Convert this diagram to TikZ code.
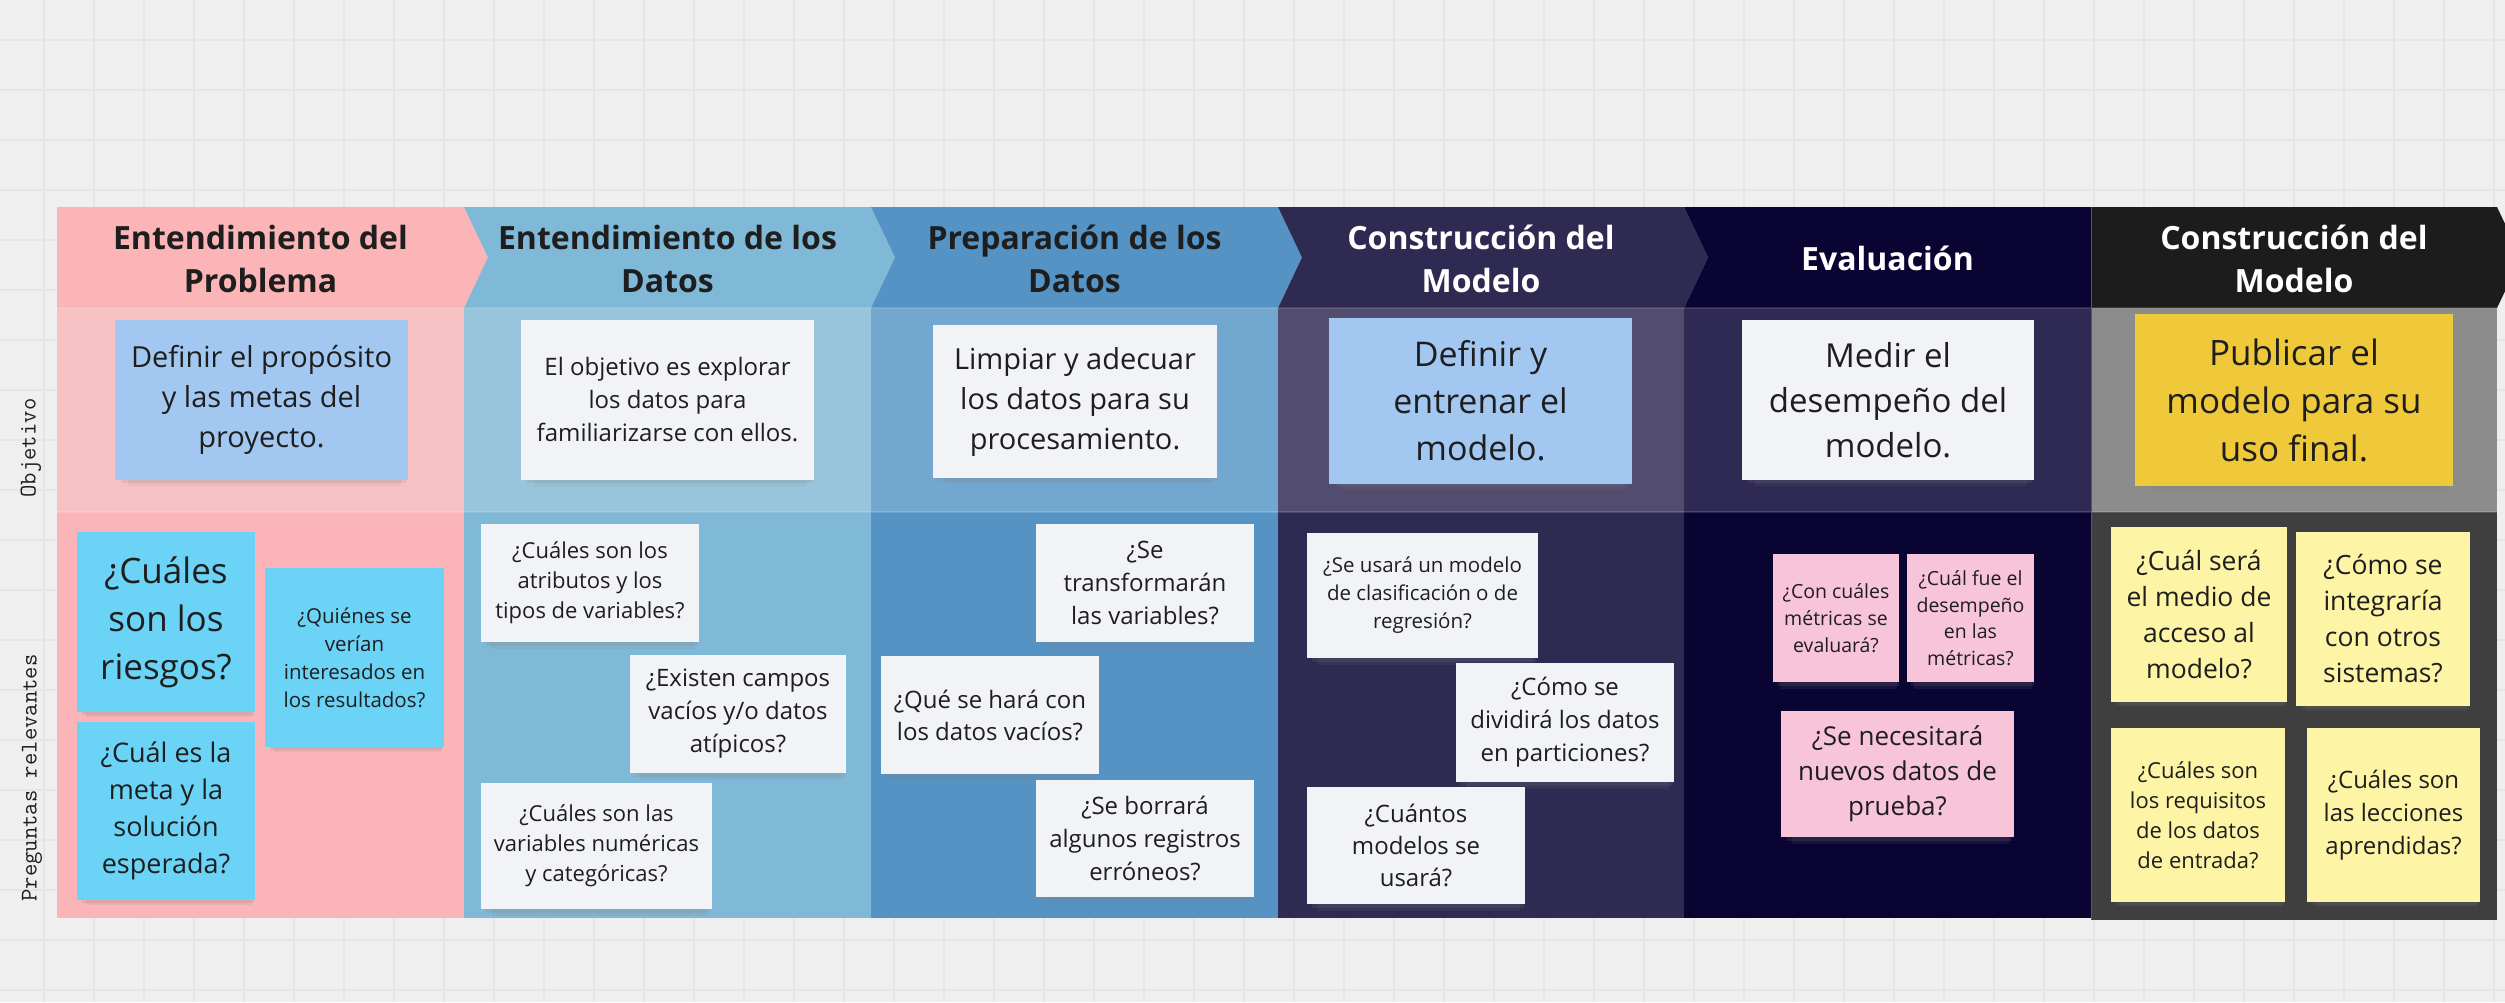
\documentclass[tikz,border=0pt]{standalone}
\usepackage{fontspec}
\setmainfont{Open Sans}
\usetikzlibrary{shadows}

\definecolor{fondo}{HTML}{EFEFEF}
\definecolor{rejilla}{HTML}{E5E5E5}
\definecolor{texto}{HTML}{1E1E1E}
% columnas: cabecera, objetivo, preguntas
\definecolor{cabA}{HTML}{FBB5B7}\definecolor{objA}{HTML}{F8C2C4}\definecolor{preA}{HTML}{FBB4B7}
\definecolor{cabB}{HTML}{80B8D7}\definecolor{objB}{HTML}{98C5DC}\definecolor{preB}{HTML}{80B8D7}
\definecolor{cabC}{HTML}{5593C5}\definecolor{objC}{HTML}{72A8CF}\definecolor{preC}{HTML}{5593C4}
\definecolor{cabD}{HTML}{2E2A52}\definecolor{objD}{HTML}{524C6F}\definecolor{preD}{HTML}{2E2A52}
\definecolor{cabE}{HTML}{0A0433}\definecolor{objE}{HTML}{2F2A54}\definecolor{preE}{HTML}{0A0433}
\definecolor{cabF}{HTML}{1C1C1C}\definecolor{objF}{HTML}{8C8C8C}\definecolor{preF}{HTML}{3F3F3F}
% notas
\definecolor{notaAzul}{HTML}{A2C8F2}
\definecolor{notaBlanca}{HTML}{F1F3F6}
\definecolor{notaCian}{HTML}{6AD3F6}
\definecolor{notaOro}{HTML}{F0C93B}
\definecolor{notaRosa}{HTML}{F8C4D9}
\definecolor{notaCrema}{HTML}{FDF4A6}

\begin{document}
\begin{tikzpicture}[x=1pt,y=-1pt]
\tikzset{base/.style={align=center, text=texto, inner sep=0pt}, }
\tikzset{dim/.style 2 args={font=\fontsize{#1}{#2}\selectfont}, }
\tikzset{nota/.style={base, drop shadow={shadow xshift=3pt, shadow yshift=-12pt, shadow scale=.93, opacity=.12},
  drop shadow={shadow xshift=2pt, shadow yshift=-6pt, shadow scale=.97, opacity=.16}}, }
\tikzset{azul node/.style={nota, fill=notaAzul}, }
\tikzset{blanca node/.style={nota, fill=notaBlanca}, }
\tikzset{cian node/.style={nota, fill=notaCian}, }
\tikzset{oro node/.style={nota, fill=notaOro}, }
\tikzset{rosa node/.style={nota, fill=notaRosa}, }
\tikzset{crema node/.style={nota, fill=notaCrema}, }
\tikzset{titulo/.style={base, font=\bfseries\fontsize{32}{43}\selectfont}, }
\tikzset{etiqueta/.style={text=texto, inner sep=0pt, rotate=90, font=\ttfamily\fontsize{24}{28}\selectfont}, }
\tikzset{linea rejilla/.style={rejilla, line width=1.2pt}, }
\tikzset{separador/.style={white, opacity=.14, line width=1.5pt}, }

\useasboundingbox (0,0) rectangle (2505,1002);
\fill[fondo] (0,0) rectangle (2505,1002);
\foreach \gx in {44,94,...,2494} \draw[linea rejilla] (\gx,0) -- (\gx,1002);
\foreach \gy in {40,90,...,990} \draw[linea rejilla] (0,\gy) -- (2505,\gy);

% filas
\fill[objA] (57,308) rectangle (464,512);   \fill[preA] (57,512) rectangle (464,918);
\fill[objB] (464,308) rectangle (871,512);  \fill[preB] (464,512) rectangle (871,918);
\fill[objC] (871,308) rectangle (1278,512); \fill[preC] (871,512) rectangle (1278,918);
\fill[objD] (1278,308) rectangle (1684,512);\fill[preD] (1278,512) rectangle (1684,918);
\fill[objE] (1684,308) rectangle (2091,512);\fill[preE] (1684,512) rectangle (2091,918);
\fill[objF] (2091,308) rectangle (2497,512);\fill[preF] (2091,512) rectangle (2497,920);

% cabeceras
\fill[cabA] (57,207) -- (464,207) -- (488,257.5) -- (464,308) -- (57,308) -- cycle;
\fill[cabB] (464,207) -- (871,207) -- (895,257.5) -- (871,308) -- (464,308) -- (488,257.5) -- cycle;
\fill[cabC] (871,207) -- (1278,207) -- (1302,257.5) -- (1278,308) -- (871,308) -- (895,257.5) -- cycle;
\fill[cabD] (1278,207) -- (1684,207) -- (1708,257.5) -- (1684,308) -- (1278,308) -- (1302,257.5) -- cycle;
\fill[cabE] (1684,207) -- (2091,207) -- (2091,308) -- (1684,308) -- (1708,257.5) -- cycle;
\fill[cabF] (2091,207) -- (2497,207) -- (2521,257.5) -- (2497,308) -- (2091,308) -- cycle;
\draw[separador] (57,308) -- (2497,308);
\draw[separador] (57,512) -- (2497,512);
\draw[gray!70!black, line width=1pt] (2091,207) -- (2091,920);

\node[titulo] (h1) at (260.5,258.5) {Entendimiento del\\Problema};
\node[titulo] (h2) at (667.5,258.5) {Entendimiento de los\\Datos};
\node[titulo] (h3) at (1074.5,258.5) {Preparación de los\\Datos};
\node[titulo, text=white] (h4) at (1481,258.5) {Construcción del\\Modelo};
\node[titulo, text=white] (h5) at (1887.5,258.5) {Evaluación};
\node[titulo, text=white] (h6) at (2294,258.5) {Construcción del\\Modelo};

\node[etiqueta] (lo) at (31,448) {Objetivo};
\node[etiqueta] (lp) at (32,778) {Preguntas relevantes};

% objetivo
\node[azul node, dim={29}{40}, minimum width=293pt, minimum height=160pt] (o1) at (261.5,400) {Definir el propósito\\y las metas del\\proyecto.};
\node[blanca node, dim={24}{33}, minimum width=293pt, minimum height=160pt] (o2) at (667.5,400) {El objetivo es explorar\\los datos para\\familiarizarse con ellos.};
\node[blanca node, dim={29}{40}, minimum width=284pt, minimum height=153pt] (o3) at (1075,401.5) {Limpiar y adecuar\\los datos para su\\procesamiento.};
\node[azul node, dim={34}{47}, minimum width=303pt, minimum height=166pt] (o4) at (1480.5,401) {Definir y\\entrenar el\\modelo.};
\node[blanca node, dim={33}{45}, minimum width=292pt, minimum height=160pt] (o5) at (1888,400) {Medir el\\desempeño del\\modelo.};
\node[oro node, dim={35}{48}, minimum width=318pt, minimum height=172pt] (o6) at (2294,400) {Publicar el\\modelo para su\\uso final.};

% preguntas
\node[cian node, dim={35}{48}, minimum width=178pt, minimum height=180pt] (q1) at (166,622) {¿Cuáles\\son los\\riesgos?};
\node[cian node, dim={27}{37}, minimum width=178pt, minimum height=178pt] (q2) at (166,811) {¿Cuál es la\\meta y la\\solución\\esperada?};
\node[cian node, dim={20.5}{28}, minimum width=179pt, minimum height=179pt] (q3) at (354.5,657.5) {¿Quiénes se\\verían\\interesados en\\los resultados?};
\node[blanca node, dim={22}{30}, minimum width=218pt, minimum height=118pt] (q4) at (590,583) {¿Cuáles son los\\atributos y los\\tipos de variables?};
\node[blanca node, dim={24}{33}, minimum width=216pt, minimum height=118pt] (q5) at (738,714) {¿Existen campos\\vacíos y/o datos\\atípicos?};
\node[blanca node, dim={22}{30}, minimum width=231pt, minimum height=126pt] (q6) at (596.5,846) {¿Cuáles son las\\variables numéricas\\y categóricas?};
\node[blanca node, dim={24}{33}, minimum width=218pt, minimum height=118pt] (q7) at (1145,583) {¿Se\\transformarán\\las variables?};
\node[blanca node, dim={24}{32}, minimum width=218pt, minimum height=118pt] (q8) at (990,715) {¿Qué se hará con\\los datos vacíos?};
\node[blanca node, dim={24}{33}, minimum width=218pt, minimum height=117pt] (q9) at (1145,838.5) {¿Se borrará\\algunos registros\\erróneos?};
\node[blanca node, dim={20.5}{28}, minimum width=231pt, minimum height=125pt] (q10) at (1422.5,595.5) {¿Se usará un modelo\\de clasificación o de\\regresión?};
\node[blanca node, dim={24}{33}, minimum width=218pt, minimum height=119pt] (q11) at (1565,722.5) {¿Cómo se\\dividirá los datos\\en particiones?};
\node[blanca node, dim={24}{32}, minimum width=218pt, minimum height=117pt] (q12) at (1416,845.5) {¿Cuántos\\modelos se\\usará?};
\node[rosa node, dim={19.5}{27}, minimum width=126pt, minimum height=128pt] (q13) at (1836,618) {¿Con cuáles\\métricas se\\evaluará?};
\node[rosa node, dim={19.5}{26.5}, minimum width=127pt, minimum height=128pt] (q14) at (1970.5,618) {¿Cuál fue el\\desempeño\\en las\\métricas?};
\node[rosa node, dim={26}{35}, minimum width=233pt, minimum height=126pt] (q15) at (1897.5,774) {¿Se necesitará\\nuevos datos de\\prueba?};
\node[crema node, dim={26.5}{36}, minimum width=176pt, minimum height=175pt] (q16) at (2199,614.5) {¿Cuál será\\el medio de\\acceso al\\modelo?};
\node[crema node, dim={26.5}{36}, minimum width=174pt, minimum height=174pt] (q17) at (2383,619) {¿Cómo se\\integraría\\con otros\\sistemas?};
\node[crema node, dim={22}{30}, minimum width=174pt, minimum height=174pt] (q18) at (2198,815) {¿Cuáles son\\los requisitos\\de los datos\\de entrada?};
\node[crema node, dim={24}{33}, minimum width=173pt, minimum height=174pt] (q19) at (2393.5,815) {¿Cuáles son\\las lecciones\\aprendidas?};
\end{tikzpicture}
\end{document}
